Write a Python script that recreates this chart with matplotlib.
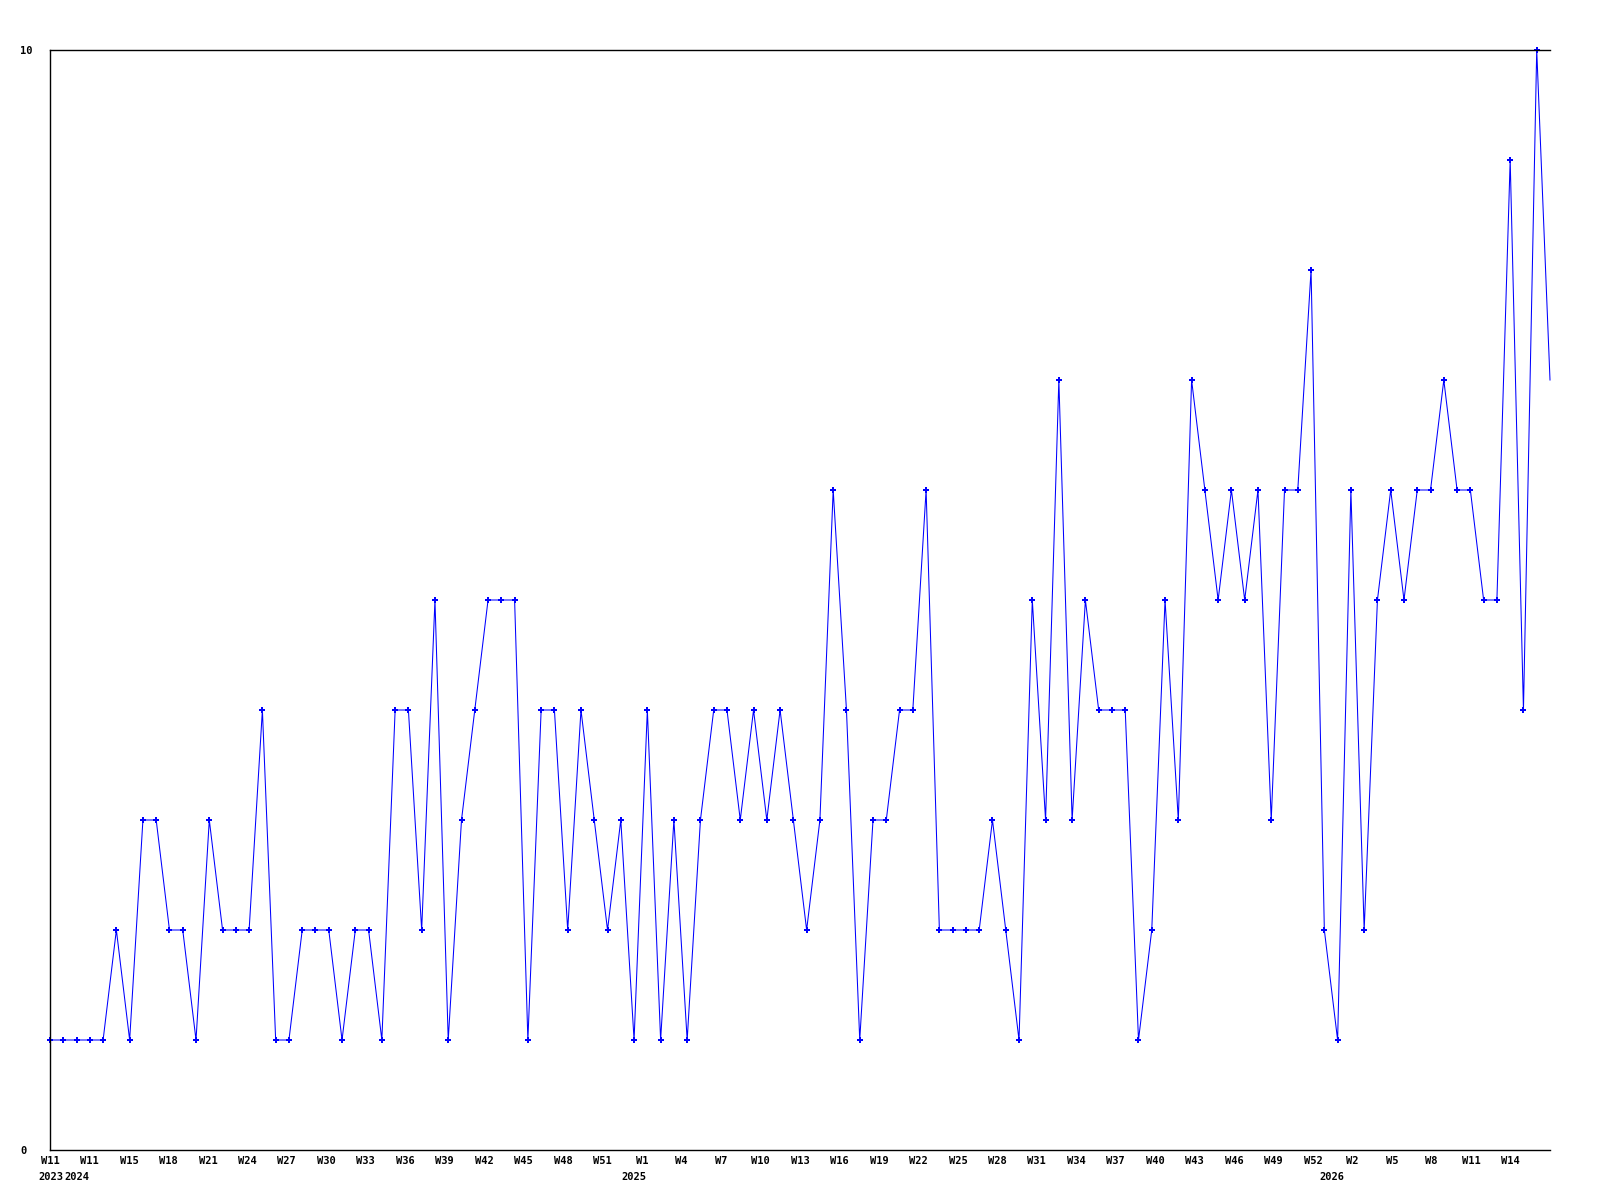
import numpy as np
import matplotlib
matplotlib.use('Agg')
import matplotlib.pyplot as plt

# weekly counts, one per point
values = [1, 1, 1, 1, 1, 2, 1, 3, 3, 2, 2, 1, 3, 2, 2, 2, 4, 1, 1,
          2, 2, 2, 1, 2, 2, 1, 4, 4, 2, 5, 1, 3, 4, 5, 5, 5, 1, 4,
          4, 2, 4, 3, 2, 3, 1, 4, 1, 3, 1, 3, 4, 4, 3, 4, 3, 4, 3,
          2, 3, 6, 4, 1, 3, 3, 4, 4, 6, 2, 2, 2, 2, 3, 2, 1, 5, 3,
          7, 3, 5, 4, 4, 4, 1, 2, 5, 3, 7, 6, 5, 6, 5, 6, 3, 6, 6,
          8, 2, 1, 6, 2, 5, 6, 5, 6, 6, 7, 6, 6, 5, 5, 9, 4, 10, 7]

week_labels = ['W11', 'W11', 'W15', 'W18', 'W21', 'W24', 'W27', 'W30', 'W33',
               'W36', 'W39', 'W42', 'W45', 'W48', 'W51', 'W1', 'W4', 'W7',
               'W10', 'W13', 'W16', 'W19', 'W22', 'W25', 'W28', 'W31', 'W34',
               'W37', 'W40', 'W43', 'W46', 'W49', 'W52', 'W2', 'W5', 'W8',
               'W11', 'W14']
year_labels = ['2023', '2024', '2025', '2026']
year_x = [0.1, 2.05, 44.0, 96.55]

y_ticks = [0, 10]

font = {'family': 'DejaVu Sans Mono', 'weight': 'bold', 'size': 7.5}

n = len(values)
x = np.arange(n)

fig = plt.figure(figsize=(16, 12), dpi=100)
ax = fig.add_axes([50/1600, 50/1200, 1500/1600, 1100/1200])

ax.plot(x, values, color='#0000ff', lw=0.75, marker='P', ms=4, mew=0,
        markevery=slice(0, n - 1), clip_on=False)

ax.set_xlim(0, n - 1)
ax.set_ylim(0, 10)

ax.spines['right'].set_visible(False)
for s in ['left', 'top', 'bottom']:
    ax.spines[s].set_linewidth(1.0)

slots = np.arange(len(week_labels)) * (n - 1) / len(week_labels)
ax.set_xticks(slots)
ax.set_xticklabels(week_labels, fontdict=font)
ax.tick_params(axis='x', length=0, pad=4)

ax.set_yticks(y_ticks)
ax.set_yticklabels([str(v) for v in y_ticks], fontdict=font, ha='left')
ax.tick_params(axis='y', length=0, pad=21.6)

for lab, xp in zip(year_labels, year_x):
    ax.annotate(lab, xy=(xp, 0), xycoords=('data', 'axes fraction'),
                xytext=(0, -15.5), textcoords='offset points',
                ha='center', va='top', **font)

fig.savefig('out.png', dpi=100)
